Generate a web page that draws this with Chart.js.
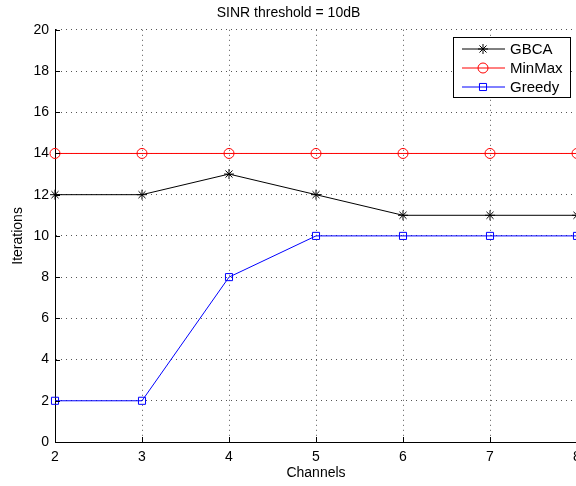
<!DOCTYPE html>
<html lang="en">
  <head>
    <meta charset="UTF-8" />
    <title>SINR threshold = 10dB</title>
    <style>
      html,
      body {
        margin: 0;
        padding: 0;
        overflow: hidden;
        background: #fff;
        font-family: "Liberation Sans", Arial, sans-serif;
      }
      .wrap {
        width: 590px;
        height: 486px;
      }
    </style>
  </head>
  <body>
    <div class="wrap"><canvas class="chart"></canvas></div>
    <script src="https://cdn.jsdelivr.net/npm/chart.js@4.4.0/dist/chart.umd.min.js"></script>
    <script>
      const channels = [2, 3, 4, 5, 6, 7, 8];
      const gbca = [12, 12, 13, 12, 11, 11, 11];
      const minMax = [14, 14, 14, 14, 14, 14, 14];
      const greedy = [2, 2, 8, 10, 10, 10, 10];
      const yTicks = [0, 2, 4, 6, 8, 10, 12, 14, 16, 18, 20];

      const font = { family: "'Liberation Sans', Arial, sans-serif", size: 14 };

      function toPoints(values) {
        return channels.map((x, i) => ({ x, y: values[i] }));
      }

      // MATLAB-style legend box, drawn by hand in the top right corner.
      const legendBox = {
        id: "legendBox",
        afterDraw(chart) {
          const ctx = chart.ctx;
          const x0 = 453, y0 = 37, w = 117, h = 60;
          ctx.save();
          ctx.fillStyle = "#fff";
          ctx.fillRect(x0, y0, w, h);
          ctx.strokeStyle = "#000";
          ctx.lineWidth = 1;
          ctx.strokeRect(x0 + 0.5, y0 + 0.5, w, h);
          ctx.textBaseline = "middle";
          chart.data.datasets.forEach((ds, i) => {
            const y = 49 + i * 19;
            ctx.strokeStyle = ds.borderColor;
            ctx.lineWidth = 1;
            ctx.beginPath();
            ctx.moveTo(462, y);
            ctx.lineTo(505, y);
            ctx.stroke();
            ctx.fillStyle = "rgba(0,0,0,0)";
            Chart.helpers.drawPoint(
              ctx,
              {
                pointStyle: ds.pointStyle,
                radius: ds.pointRadius,
                borderWidth: 1,
                rotation: 0,
              },
              483,
              y
            );
            ctx.fillStyle = "#000";
            ctx.font = "15px 'Liberation Sans', Arial, sans-serif";
            ctx.fillText(ds.label, 510, y + 1);
          });
          ctx.restore();
        },
      };

      // Inward tick marks on the left and bottom axes.
      const innerTicks = {
        id: "innerTicks",
        afterDatasetsDraw(chart) {
          const { ctx, chartArea, scales } = chart;
          ctx.save();
          ctx.strokeStyle = "#000";
          ctx.lineWidth = 1;
          ctx.beginPath();
          yTicks.forEach((v) => {
            const y = Math.round(scales.y.getPixelForValue(v)) + 0.5;
            ctx.moveTo(chartArea.left, y);
            ctx.lineTo(chartArea.left + 5, y);
          });
          channels.forEach((v) => {
            const x = Math.round(scales.x.getPixelForValue(v)) + 0.5;
            ctx.moveTo(x, chartArea.bottom);
            ctx.lineTo(x, chartArea.bottom - 5);
          });
          ctx.stroke();
          ctx.restore();
        },
      };

      const ctx = document.querySelector(".chart").getContext("2d");
      new Chart(ctx, {
        type: "line",
        data: {
          datasets: [
            {
              label: "GBCA",
              data: toPoints(gbca),
              borderColor: "#000",
              backgroundColor: "#000",
              borderWidth: 1,
              pointStyle: "star",
              pointRadius: 5,
              pointBorderWidth: 1,
              clip: false,
            },
            {
              label: "MinMax",
              data: toPoints(minMax),
              borderColor: "#ff0000",
              backgroundColor: "transparent",
              borderWidth: 1,
              pointStyle: "circle",
              pointRadius: 5,
              pointBorderWidth: 1,
              clip: false,
            },
            {
              label: "Greedy",
              data: toPoints(greedy),
              borderColor: "#0000ff",
              backgroundColor: "transparent",
              borderWidth: 1,
              pointStyle: "rect",
              pointRadius: 5,
              pointBorderWidth: 1,
              clip: false,
            },
          ],
        },
        options: {
          responsive: true,
          maintainAspectRatio: false,
          animation: false,
          layout: { padding: { left: 0, right: 13, top: 0, bottom: 0 } },
          scales: {
            x: {
              type: "linear",
              min: 2,
              max: 8,
              afterFit: (s) => { s.height = 44; },
              ticks: { stepSize: 1, color: "#000", font, padding: 7 },
              grid: {
                color: "#555",
                drawTicks: false,
              },
              border: { color: "#000", dash: [1, 4] },
              title: {
                display: true,
                text: "Channels",
                color: "#000",
                font,
                padding: { top: 0, bottom: 4 },
              },
            },
            y: {
              min: 0,
              max: 20,
              afterFit: (s) => { s.width = 55; },
              ticks: { stepSize: 2, color: "#000", font, padding: 6 },
              grid: {
                color: "#555",
                drawTicks: false,
              },
              border: { color: "#000", dash: [1, 4] },
              title: {
                display: true,
                text: "Iterations",
                color: "#000",
                font,
                padding: { top: 10, bottom: 0 },
              },
            },
          },
          plugins: {
            legend: false,
            tooltip: false,
            title: {
              display: true,
              text: "SINR threshold = 10dB",
              color: "#000",
              font: { ...font, weight: "normal" },
              padding: { top: 5, bottom: 8 },
            },
          },
        },
        plugins: [innerTicks, legendBox],
      });
    </script>
  </body>
</html>
